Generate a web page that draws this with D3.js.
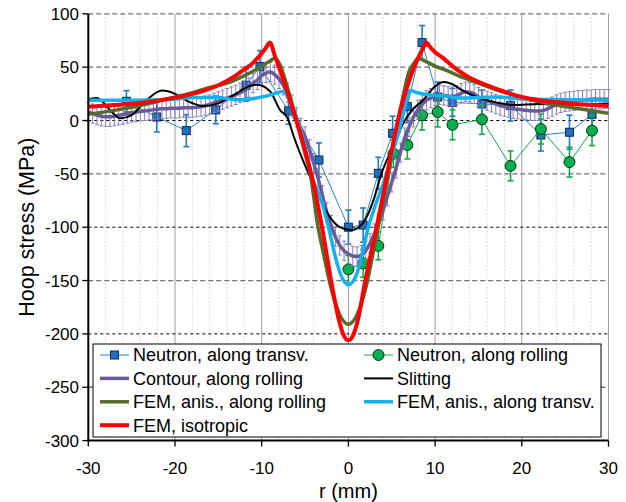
<!DOCTYPE html>
<html>
<head>
<meta charset="utf-8">
<script src="https://cdn.jsdelivr.net/npm/d3@7"></script>
<style>
  body { margin: 0; background: #fff; }
  svg { display: block; font-family: "Liberation Sans", Arial, sans-serif; }
</style>
</head>
<body>
<div id="chart"></div>
<script>
// Neutron diffraction, along transverse direction (blue squares)
const transvR = [-25.6, -22.1, -18.7, -15.3, -11.8, -10.2, -6.9, -3.4, 0, 1.7, 3.45, 5.1, 6.8, 8.5, 10.3, 12.0, 15.4, 18.7, 22.2, 25.5, 28.1];
const transvV = [18, 3.3, -9.5, 10, 33, 50.5, 9, -37, -100, -98, -49.5, -12, 13, 73, 22, 17, 15.5, 14, -13.6, -11, 5.8];
const transvErr = [10, 14, 15, 13, 15, 15, 12.5, 16, 16, 16, 15, 16, 15, 16, 14, 13, 13, 14.5, 15, 16, 15];

// Neutron diffraction, along rolling direction (green circles)
const rollR = [0, 1.7, 3.45, 5.2, 6.8, 8.5, 10.3, 12.0, 15.4, 18.7, 22.2, 25.5, 28.1];
const rollV = [-139.5, -134, -117.5, -31, -23, 5, 8, -4, 1, -42.5, -8, -39, -9.5];
const rollErr = [13, 13, 13, 13, 13, 14, 14, 14, 14, 14, 14, 14, 14];

// Contour method, along rolling; one value every 0.5 mm from -30 to 30
const contourV = [
  8, 6.5, 5, 4, 3.5, 3.5, 4, 5, 5.5, 6.5,
  7.5, 8, 8.5, 9, 9.5, 10, 10.5, 11, 11, 11.5,
  11.5, 11.5, 12, 12, 12, 12.5, 13, 14, 15, 16.5,
  18, 19.5, 21, 22.5, 24, 26, 28, 31, 35, 38,
  42, 44.5, 45.5, 43, 39, 33, 26, 15, 3, -7,
  -15, -27, -40, -54, -70, -86, -98, -109, -117, -122,
  -125, -127, -127.5, -126, -122, -115, -106, -96, -84, -71,
  -58, -45, -30, -16, -6, 3, 10, 15, 19, 21,
  23, 24, 23.5, 23, 22.5, 23.5, 25.5, 27, 26.5, 25,
  22, 20, 18.5, 17, 15.5, 14, 13, 12, 11, 10.5,
  10, 9.5, 9.2, 9, 9, 9.5, 11, 13, 15, 16.5,
  17.5, 18, 18.5, 19, 19, 19.5, 19.5, 20, 20, 20,
  20
];
const contourErr = 9;

// Slitting
const slitR = [-30, -29, -28.3, -27.3, -26.3, -25, -24, -23, -21.5, -20, -18.5, -16.7, -15, -13, -11.5, -10.5, -9, -7.9, -7, -6.3, -5, -4, -3, -2, -1, 0.3, 1, 2, 3, 3.8, 5, 6.5, 7.5, 8.6, 10, 11, 12, 13, 14.8, 17, 19, 22, 26, 30];
const slitV = [20, 21, 17, 8, 2, 5, 13, 21, 28, 25, 18, 13.6, 16, 25, 32, 33.5, 27, 10, 2, -15, -42, -60, -78, -92, -100, -102.6, -101, -92, -72, -50, -27, 0, 11, 19, 32, 36, 34, 29, 22, 17, 14.5, 15.5, 15, 16];

// FEM, anisotropic, along rolling
const femRollR = [-30, -27, -24, -21, -18, -16, -14, -12, -10, -9, -8.5, -8, -7, -6, -5, -4.4, -3.5, -3, -2, -1, 0, 1, 2, 3, 4, 5, 6, 7, 7.5, 8.1, 9, 10, 11.3, 13, 15, 17, 20, 24, 27, 30];
const femRollV = [6, 9.5, 14, 20, 26, 31, 35, 42, 51, 56, 58.3, 54, 30, 0, -31, -50, -100, -120, -157, -182, -191, -182, -157, -118, -76, -32, 10, 46, 53, 58, 55, 51, 47, 41, 35, 29, 21.5, 14.5, 10.5, 6.7];

// FEM, anisotropic, along transverse
const femTransR = [-30, -25, -20, -18, -15, -13, -11.5, -10, -9, -8, -7.4, -7, -6, -5, -4.3, -3, -2.3, -1.4, -1, 0, 1, 1.4, 2.3, 3, 4.4, 5, 6, 6.5, 7.1, 8, 9.4, 11, 13, 15, 17, 20, 25, 30];
const femTransV = [19, 19, 20, 21.5, 21.5, 19.5, 20, 22, 24, 26.5, 27.5, 22, 3, -25, -50, -78, -100, -131, -142, -154, -143, -131, -100, -82, -50, -33, -5, 12, 28, 26, 24, 23, 21, 21.5, 22, 20.5, 19.5, 19];

// FEM, isotropic
const femIsoR = [-30, -27, -24, -21, -19, -17, -15, -13, -12, -11, -10, -9.6, -9.05, -8.5, -8, -7, -6, -5, -4, -3, -2, -1, -0.5, 0, 0.5, 1, 2, 3, 4, 5, 6, 7, 8, 8.5, 8.95, 9.5, 10, 11, 12, 13, 14, 16, 18, 20, 22, 25, 28, 30];
const femIsoV = [13, 14.5, 16.5, 20, 23, 27, 33, 42, 48, 54, 63, 67, 73, 61, 50, 26, 0, -28, -60, -102, -150, -190, -202, -206, -202, -190, -148, -110, -70, -28, 10, 37, 58, 66, 73, 68, 64, 58, 51, 45, 40, 33, 27, 22, 19, 16.5, 14.5, 13.5];

const xTicks = [-30, -20, -10, 0, 10, 20, 30];
const yTicks = [100, 50, 0, -50, -100, -150, -200, -250, -300];

const w = 626, h = 502;
const x = d3.scaleLinear().domain([-30, 30]).range([88.3, 608.5]);
const y = d3.scaleLinear().domain([-300, 100]).range([440.6, 13.8]);

const svg = d3.select("#chart").append("svg").attr("width", w).attr("height", h);
svg.append("rect").attr("width", w).attr("height", h).attr("fill", "#fff");

//gridlines: minor verticals every 2 mm, major every 10 mm
const minorX = d3.range(-28, 30, 2).filter((v) => v % 10 !== 0);
svg.append("g").selectAll("line").data(minorX).enter().append("line")
  .attr("x1", (d) => x(d)).attr("x2", (d) => x(d))
  .attr("y1", y(100)).attr("y2", y(-300))
  .attr("stroke", "#d4d4d4").attr("stroke-dasharray", "1.5,2");
svg.append("g").selectAll("line").data([-20, -10, 0, 10, 20]).enter().append("line")
  .attr("x1", (d) => x(d)).attr("x2", (d) => x(d))
  .attr("y1", y(100)).attr("y2", y(-300))
  .attr("stroke", "#a0a0a0");
svg.append("line")
  .attr("x1", x(30)).attr("x2", x(30)).attr("y1", y(100)).attr("y2", y(-300))
  .attr("stroke", "#a0a0a0");

svg.append("g").selectAll("line").data(yTicks.filter((v) => v > -300)).enter().append("line")
  .attr("x1", x(-30)).attr("x2", x(30))
  .attr("y1", (d) => y(d)).attr("y2", (d) => y(d))
  .attr("stroke", (d) => (d % 100 === 0 && d !== 100 ? "#000" : "#707070"))
  .attr("stroke-width", (d) => (d % 100 === 0 && d !== 100 ? 1 : 1.3))
  .attr("stroke-dasharray", (d) => (d % 100 === 0 && d !== 100 ? "3,3" : "5,3"));

const line = d3.line().x((d) => x(d[0])).y((d) => y(d[1]));

function errorBars(rs, vs, errs, color, width, cap) {
  const g = svg.append("g").attr("stroke", color).attr("stroke-width", width);
  rs.forEach((r, i) => {
    const e = Array.isArray(errs) ? errs[i] : errs;
    const cx = x(r);
    g.append("line").attr("x1", cx).attr("x2", cx).attr("y1", y(vs[i] + e)).attr("y2", y(vs[i] - e));
    g.append("line").attr("x1", cx - cap).attr("x2", cx + cap).attr("y1", y(vs[i] + e)).attr("y2", y(vs[i] + e));
    g.append("line").attr("x1", cx - cap).attr("x2", cx + cap).attr("y1", y(vs[i] - e)).attr("y2", y(vs[i] - e));
  });
}

function curve(rs, vs, color, width, shape) {
  svg.append("path")
    .attr("fill", "none")
    .attr("stroke", color)
    .attr("stroke-width", width)
    .attr("stroke-linejoin", "round")
    .attr("d", line.curve(shape)(d3.zip(rs, vs)));
}

// neutron, transverse
errorBars(transvR, transvV, transvErr, "#1f78c8", 1.6, 3);
curve(transvR, transvV, "#2a80cc", 1, d3.curveLinear);
svg.append("g").selectAll("rect").data(d3.zip(transvR, transvV)).enter().append("rect")
  .attr("x", (d) => x(d[0]) - 4).attr("y", (d) => y(d[1]) - 4)
  .attr("width", 8).attr("height", 8)
  .attr("fill", "#1f6fbf").attr("stroke", "#0d2b4d").attr("stroke-width", 1);

// neutron, rolling
errorBars(rollR, rollV, rollErr, "#14a84c", 1.6, 3);
curve(rollR, rollV, "#14a84c", 1, d3.curveLinear);
svg.append("g").selectAll("circle").data(d3.zip(rollR, rollV)).enter().append("circle")
  .attr("cx", (d) => x(d[0])).attr("cy", (d) => y(d[1])).attr("r", 5.5)
  .attr("fill", "#00b050").attr("stroke", "#113311").attr("stroke-width", 1);

// contour
const contourR = contourV.map((v, i) => -30 + i * 0.5);
errorBars(contourR, contourV, contourErr, "#8a7cbc", 1, 2);
curve(contourR, contourV, "#6a5a98", 3.5, d3.curveMonotoneX);

curve(slitR, slitV, "#000", 2, d3.curveMonotoneX);
curve(femRollR, femRollV, "#566b2c", 3.5, d3.curveMonotoneX);
curve(femTransR, femTransV, "#12b2ee", 3.5, d3.curveMonotoneX);
curve(femIsoR, femIsoV, "#ff0000", 4, d3.curveMonotoneX);

//axes
svg.append("line").attr("x1", x(-30)).attr("x2", x(-30)).attr("y1", y(100)).attr("y2", y(-300))
  .attr("stroke", "#000").attr("stroke-width", 2);
svg.append("line").attr("x1", x(-30) - 1).attr("x2", x(30)).attr("y1", y(-300)).attr("y2", y(-300))
  .attr("stroke", "#000").attr("stroke-width", 2);

svg.append("g").selectAll("line").data(yTicks).enter().append("line")
  .attr("x1", x(-30) - 6).attr("x2", x(-30))
  .attr("y1", (d) => y(d)).attr("y2", (d) => y(d))
  .attr("stroke", "#000").attr("stroke-width", 1.3);
svg.append("g").selectAll("text").data(yTicks).enter().append("text")
  .attr("x", 79).attr("y", (d) => y(d)).attr("dy", "0.36em")
  .attr("text-anchor", "end").attr("font-size", 17).attr("fill", "#000")
  .text((d) => d);

svg.append("g").selectAll("line").data(xTicks).enter().append("line")
  .attr("x1", (d) => x(d)).attr("x2", (d) => x(d))
  .attr("y1", y(-300)).attr("y2", y(-300) + 6)
  .attr("stroke", "#000").attr("stroke-width", 1.3);
svg.append("g").selectAll("text").data(xTicks).enter().append("text")
  .attr("x", (d) => x(d)).attr("y", 474)
  .attr("text-anchor", "middle").attr("font-size", 17).attr("fill", "#000")
  .text((d) => d);

svg.append("text").attr("x", x(0)).attr("y", 498)
  .attr("text-anchor", "middle").attr("font-size", 20).text("r (mm)");
svg.append("text")
  .attr("transform", `translate(34,${(y(100) + y(-300)) / 2}) rotate(-90)`)
  .attr("text-anchor", "middle").attr("font-size", 21.5).text("Hoop stress (MPa)");

//legend
const legend = svg.append("g");
legend.append("rect").attr("x", 93).attr("y", 344).attr("width", 508).attr("height", 93)
  .attr("fill", "#fff").attr("stroke", "#000").attr("stroke-width", 1);

const legendItems = [
  { label: "Neutron, along transv.", color: "#2a80cc", width: 1, marker: "square", col: 0, row: 0 },
  { label: "Neutron, along rolling", color: "#14a84c", width: 1, marker: "circle", col: 1, row: 0 },
  { label: "Contour, along rolling", color: "#6a5a98", width: 3.5, col: 0, row: 1 },
  { label: "Slitting", color: "#000", width: 2, col: 1, row: 1 },
  { label: "FEM, anis., along rolling", color: "#566b2c", width: 3.5, col: 0, row: 2 },
  { label: "FEM, anis., along transv.", color: "#12b2ee", width: 3.5, col: 1, row: 2 },
  { label: "FEM, isotropic", color: "#ff0000", width: 4, col: 0, row: 3 }
];
legendItems.forEach((it) => {
  const lx = it.col === 0 ? 100 : 364;
  const ly = 355 + it.row * 23.4;
  legend.append("line").attr("x1", lx).attr("x2", lx + 29).attr("y1", ly).attr("y2", ly)
    .attr("stroke", it.color).attr("stroke-width", it.width);
  if (it.marker === "square") {
    legend.append("rect").attr("x", lx + 10.5).attr("y", ly - 4).attr("width", 8).attr("height", 8)
      .attr("fill", "#1f6fbf").attr("stroke", "#0d2b4d");
  } else if (it.marker === "circle") {
    legend.append("circle").attr("cx", lx + 14.5).attr("cy", ly).attr("r", 5.5)
      .attr("fill", "#00b050").attr("stroke", "#113311");
  }
  legend.append("text").attr("x", lx + 33).attr("y", ly).attr("dy", "0.36em")
    .attr("font-size", 18).text(it.label);
});
</script>
</body>
</html>
